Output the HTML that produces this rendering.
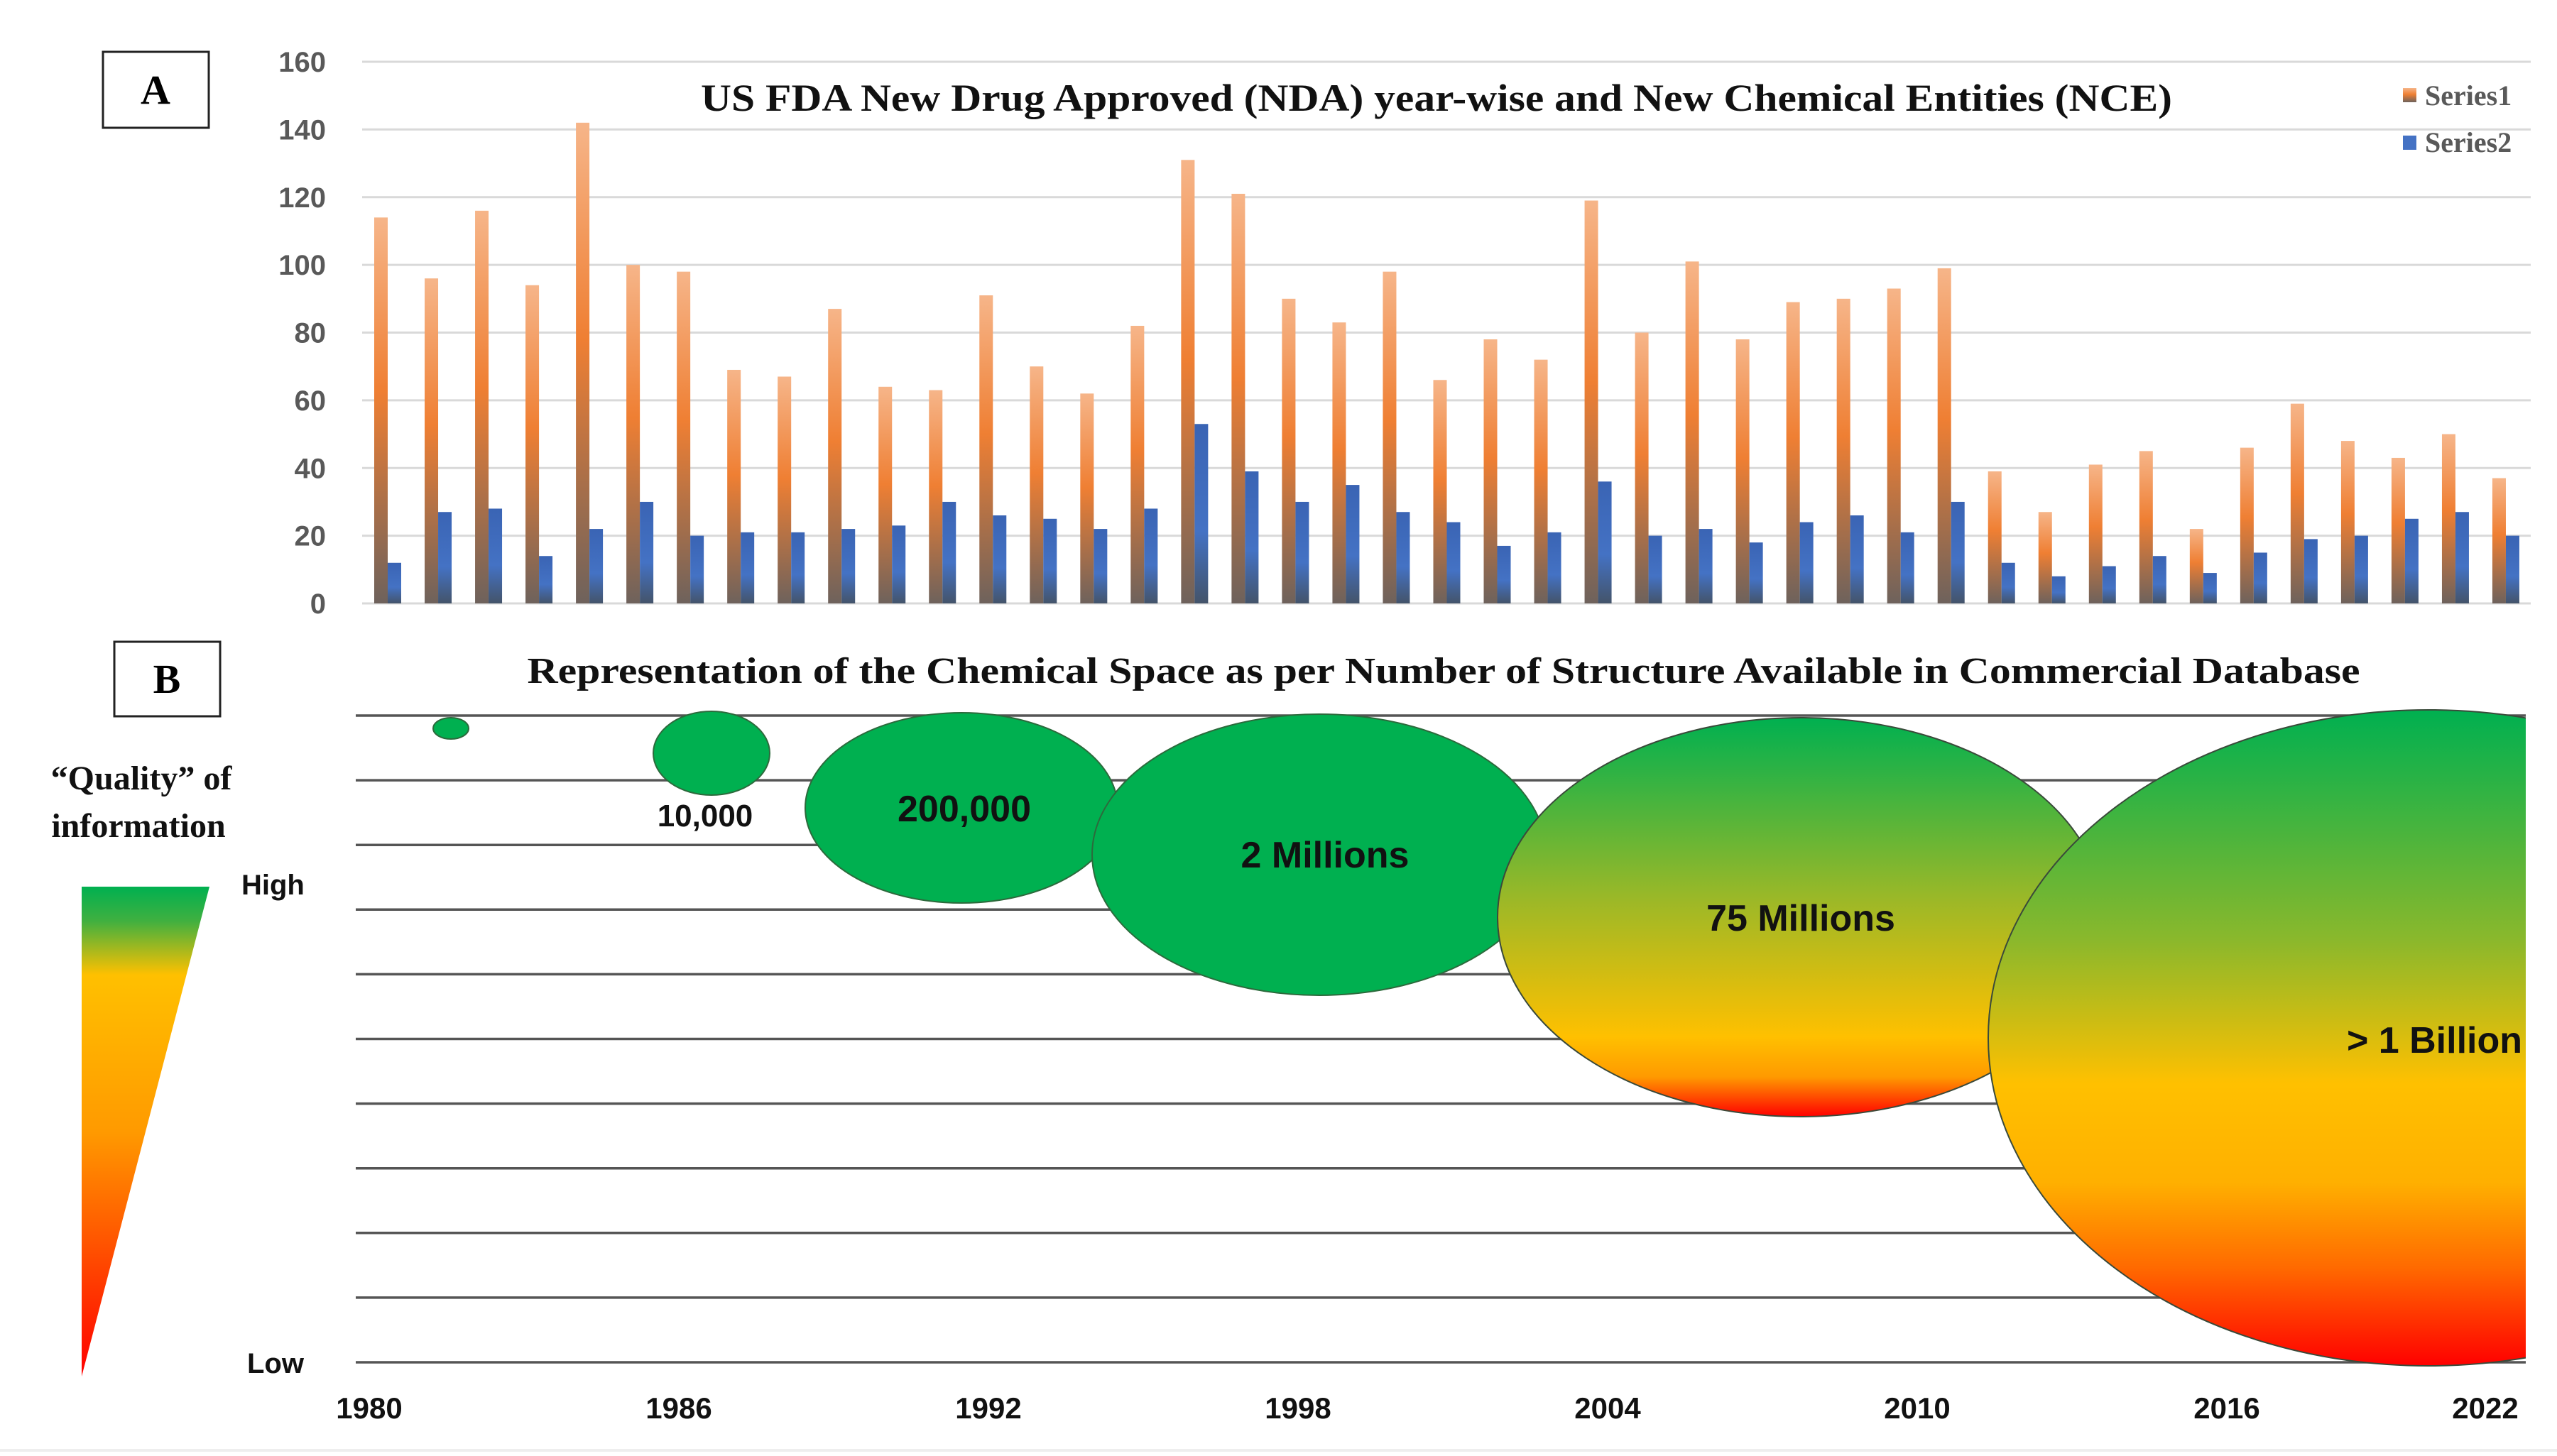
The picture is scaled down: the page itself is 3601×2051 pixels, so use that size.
<!DOCTYPE html>
<html><head><meta charset="utf-8"><style>
html,body{margin:0;padding:0;background:#fff;}
svg{display:block;}
</style></head><body>
<svg id="fig" width="3601" height="2051" viewBox="0 0 3601 2051" xmlns="http://www.w3.org/2000/svg">
<defs>
<linearGradient id="gOr" x1="0" y1="0" x2="0" y2="1">
<stop offset="0" stop-color="#f6b589"/><stop offset="0.45" stop-color="#ef7f33"/><stop offset="1" stop-color="#6e625c"/>
</linearGradient>
<linearGradient id="gBl" x1="0" y1="0" x2="0" y2="1">
<stop offset="0" stop-color="#3a64b4"/><stop offset="0.6" stop-color="#4472c4"/><stop offset="1" stop-color="#44546a"/>
</linearGradient>
<linearGradient id="gTri" x1="0" y1="0" x2="0" y2="1">
<stop offset="0" stop-color="#00b050"/><stop offset="0.07" stop-color="#40b040"/><stop offset="0.18" stop-color="#ffc000"/><stop offset="0.5" stop-color="#ff9a00"/><stop offset="1" stop-color="#ff0000"/>
</linearGradient>
<linearGradient id="g75" x1="0" y1="0" x2="0" y2="1">
<stop offset="0" stop-color="#00b050"/><stop offset="0.45" stop-color="#9ab828"/><stop offset="0.8" stop-color="#ffc000"/><stop offset="0.9" stop-color="#ff9a00"/><stop offset="1" stop-color="#ff0000"/>
</linearGradient>
<linearGradient id="gBil" x1="0" y1="0" x2="0" y2="1">
<stop offset="0" stop-color="#00b050"/><stop offset="0.35" stop-color="#8ab82c"/><stop offset="0.57" stop-color="#ffc000"/><stop offset="0.72" stop-color="#ffb000"/><stop offset="0.85" stop-color="#ff6a00"/><stop offset="1" stop-color="#ff0000"/>
</linearGradient>
<clipPath id="clipB"><rect x="0" y="980" width="3557" height="1000"/></clipPath>
</defs>

<!-- Panel A -->
<rect x="145" y="73" width="149" height="107" fill="#fff" stroke="#222" stroke-width="3"/>
<text x="219" y="146" text-anchor="middle" font-family="Liberation Serif, serif" font-weight="bold" font-size="58" fill="#000">A</text>
<g id="gridA"></g>
<g id="ticksA"></g>
<g id="barsA"></g>
<text x="2023" y="156" text-anchor="middle" font-family="Liberation Serif, serif" font-weight="bold" font-size="54" fill="#111" textLength="2072" lengthAdjust="spacingAndGlyphs">US FDA New Drug Approved (NDA) year-wise and New Chemical Entities (NCE)</text>
<g>
<rect x="3384" y="124" width="19" height="20" fill="url(#gOr)"/>
<text x="3415" y="148" font-family="Liberation Serif, serif" font-weight="bold" font-size="40" fill="#595959">Series1</text>
<rect x="3384" y="191" width="19" height="20" fill="#4472c4"/>
<text x="3415" y="214" font-family="Liberation Serif, serif" font-weight="bold" font-size="40" fill="#595959">Series2</text>
</g>

<!-- Panel B -->
<rect x="161" y="904" width="149" height="105" fill="#fff" stroke="#222" stroke-width="3"/>
<text x="235" y="976" text-anchor="middle" font-family="Liberation Serif, serif" font-weight="bold" font-size="58" fill="#000">B</text>
<text x="2033" y="962" text-anchor="middle" font-family="Liberation Serif, serif" font-weight="bold" font-size="52" fill="#111" textLength="2581" lengthAdjust="spacingAndGlyphs">Representation of the Chemical Space as per Number of Structure Available in Commercial Database</text>
<g id="gridB"></g>
<g id="yearsB"></g>

<text x="199" y="1112" text-anchor="middle" font-family="Liberation Serif, serif" font-weight="bold" font-size="48" fill="#111">“Quality” of</text>
<text x="195" y="1179" text-anchor="middle" font-family="Liberation Serif, serif" font-weight="bold" font-size="48" fill="#111">information</text>
<polygon points="115,1249 295,1249 115,1939" fill="url(#gTri)"/>
<text x="340" y="1260" font-family="Liberation Sans, sans-serif" font-weight="bold" font-size="40" fill="#111">High</text>
<text x="348" y="1934" font-family="Liberation Sans, sans-serif" font-weight="bold" font-size="40" fill="#111">Low</text>

<g clip-path="url(#clipB)">
<ellipse cx="635" cy="1026" rx="25" ry="15" fill="#00b050" stroke="#2c6a3c" stroke-width="2"/>
<ellipse cx="1002" cy="1061" rx="82" ry="59" fill="#00b050" stroke="#2c6a3c" stroke-width="2"/>
<ellipse cx="1354" cy="1138" rx="220" ry="134" fill="#00b050" stroke="#2c6a3c" stroke-width="2"/>
<ellipse cx="1858" cy="1204" rx="320" ry="198" fill="#00b050" stroke="#2c6a3c" stroke-width="2"/>
<ellipse cx="2536" cy="1292" rx="427" ry="281" fill="url(#g75)" stroke="#3a4a3a" stroke-width="2"/>
<ellipse cx="3420" cy="1462" rx="620" ry="462" fill="url(#gBil)" stroke="#3a4a3a" stroke-width="2"/>
</g>
<g font-family="Liberation Sans, sans-serif" font-weight="bold" fill="#111">
<text x="993" y="1164" text-anchor="middle" font-size="44">10,000</text>
<text x="1358" y="1157" text-anchor="middle" font-size="52">200,000</text>
<text x="1866" y="1222" text-anchor="middle" font-size="52">2 Millions</text>
<text x="2536" y="1311" text-anchor="middle" font-size="52">75 Millions</text>
<text x="3552" y="1483" text-anchor="end" font-size="52">&gt; 1 Billion</text>
</g>
<line x1="0" y1="2043" x2="3601" y2="2043" stroke="#eeeeee" stroke-width="4"/>
</svg>
<script>
const years = [1980,1981,1982,1983,1984,1985,1986,1987,1988,1989,1990,1991,1992,1993,1994,1995,1996,1997,1998,1999,2000,2001,2002,2003,2004,2005,2006,2007,2008,2009,2010,2011,2012,2013,2014,2015,2016,2017,2018,2019,2020,2021,2022];
const series1 = [114,96,116,94,142,100,98,69,67,87,64,63,91,70,62,82,131,121,90,83,98,66,78,72,119,80,101,78,89,90,93,99,39,27,41,45,22,46,59,48,43,50,37];
const series2 = [12,27,28,14,22,30,20,21,21,22,23,30,26,25,22,28,53,39,30,35,27,24,17,21,36,20,22,18,24,26,21,30,12,8,11,14,9,15,19,20,25,27,20];
const yTicks = [0,20,40,60,80,100,120,140,160];
const bYears = [1980,1986,1992,1998,2004,2010,2016,2022];
const bLevels = [0,1,2,3,4,5,6,7,8,9,10];

const NS = 'http://www.w3.org/2000/svg';
const X0 = 510, X1 = 3564, Y0 = 850, YT = 87, YMAX = 160;
const yScale = v => Y0 - (v / YMAX) * (Y0 - YT);
const catW = (X1 - X0) / years.length;
const xScale = i => X0 + i * catW;
function mk(tag, attrs, parent) {
  const e = document.createElementNS(NS, tag);
  for (const k in attrs) e.setAttribute(k, attrs[k]);
  parent.appendChild(e);
  return e;
}
const gridA = document.getElementById('gridA');
const ticksA = document.getElementById('ticksA');
yTicks.forEach(t => {
  const y = yScale(t);
  const l = mk('line', {x1: X0, x2: X1, y1: y, y2: y, stroke: '#d9d9d9', 'stroke-width': 3}, gridA);
  
  
  const tx = mk('text', {x: 459, y: y + 14, 'text-anchor': 'end', 'font-family': 'Liberation Sans, sans-serif', 'font-weight': 'bold', 'font-size': 40, fill: '#595959'}, ticksA);
  tx.textContent = t;
  
  
});
const barsA = document.getElementById('barsA');
years.forEach((yr, i) => {
  const x = xScale(i);
  const y1 = yScale(series1[i]);
  const r1 = mk('rect', {x: x + 17, y: y1, width: 19, height: Y0 - y1, fill: 'url(#gOr)'}, barsA);
  
  
  const y2 = yScale(series2[i]);
  const r2 = mk('rect', {x: x + 36, y: y2, width: 19, height: Y0 - y2, fill: 'url(#gBl)'}, barsA);
  
  
});
const gridB = document.getElementById('gridB');
const BY0 = 1008, BY1 = 1919;
bLevels.forEach(k => {
  const y = BY0 + k * (BY1 - BY0) / (bLevels.length - 1);
  const l = mk('line', {x1: 501, x2: 3557, y1: y, y2: y, stroke: '#555', 'stroke-width': 3.5}, gridB);
  
  
});
const yearsB = document.getElementById('yearsB');
bYears.forEach((yr, i) => {
  let x = 520 + (yr - 1980) / 6 * 436;
  if (yr === 2022) x = 3500;
  const t = mk('text', {x: x, y: 1998, 'text-anchor': 'middle', 'font-family': 'Liberation Sans, sans-serif', 'font-weight': 'bold', 'font-size': 42, fill: '#111'}, yearsB);
  t.textContent = yr;
  
  
});
</script>
</body></html>
